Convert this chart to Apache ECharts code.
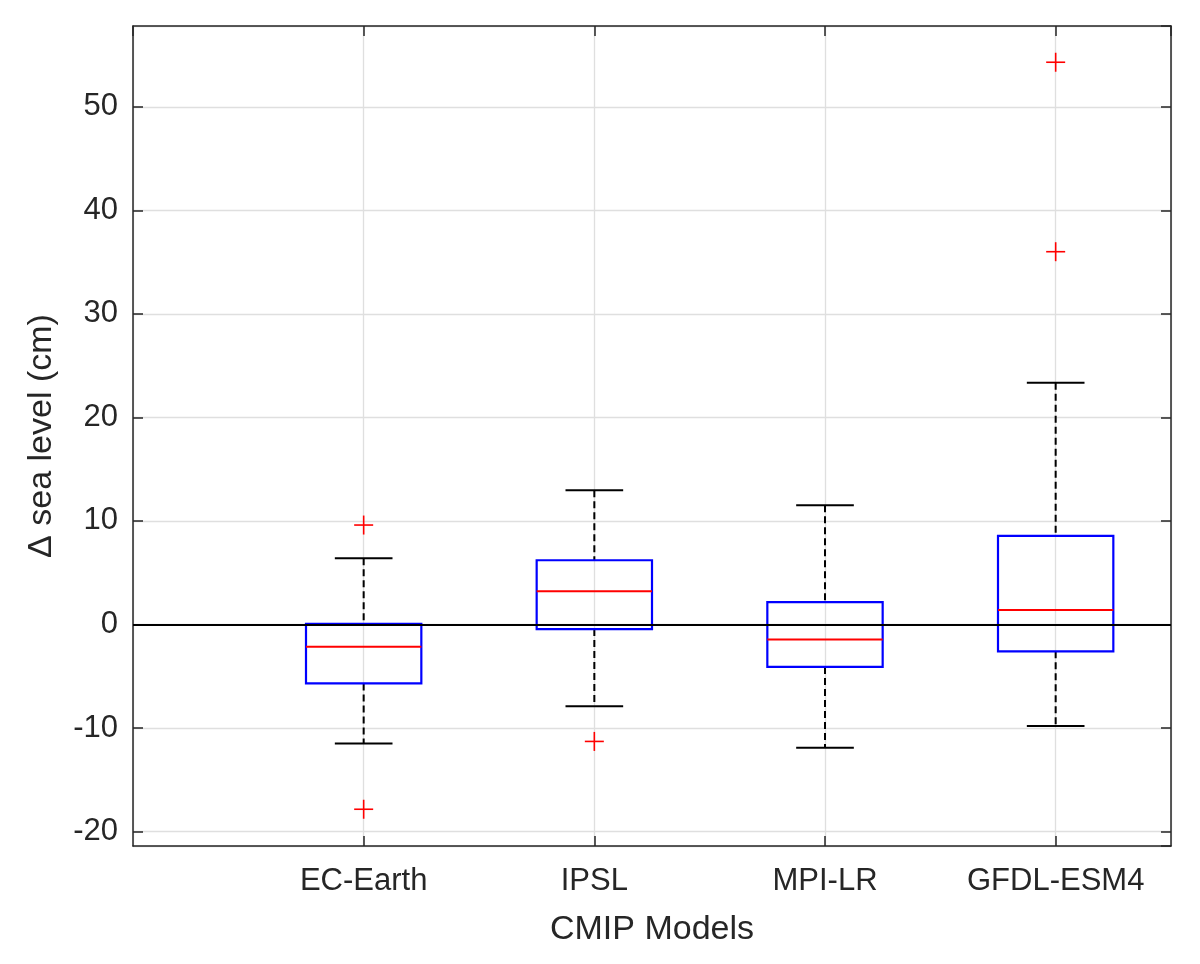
<!DOCTYPE html>
<html>
<head>
<meta charset="utf-8">
<script src="https://cdn.jsdelivr.net/npm/echarts@6.0.0/dist/echarts.min.js"></script>
<style>
  html, body { margin: 0; padding: 0; background: #fff; }
  #chart { width: 1200px; height: 964px; }
</style>
</head>
<body>
<div id="chart"></div>
<script>
// box statistics (cm)
const models = ["EC-Earth", "IPSL", "MPI-LR", "GFDL-ESM4"];
const whiskerLow = [-11.5, -7.9, -11.9, -9.8];
const quartile1 = [-5.7, -0.45, -4.1, -2.6];
const medians = [-2.15, 3.2, -1.45, 1.4];
const quartile3 = [0.05, 6.2, 2.15, 8.55];
const whiskerHigh = [6.4, 12.95, 11.5, 23.35];

// outliers: model position (1-based) and value
const outlierModel = [1, 1, 2, 4, 4];
const outlierValue = [9.6, -17.85, -11.3, 54.3, 36.0];

const yTicks = [-20, -10, 0, 10, 20, 30, 40, 50];

const FONT = "'Liberation Sans', Arial, Helvetica, sans-serif";
const INK = "#262626";

const boxData = models.map((m, i) => [
  i + 1, whiskerLow[i], quartile1[i], medians[i], quartile3[i], whiskerHigh[i],
]);
const outlierData = outlierModel.map((m, i) => [m, outlierValue[i]]);

const chart = echarts.init(document.getElementById("chart"), null, { renderer: "canvas" });

const xCommon = {
  type: "value",
  min: 0,
  max: 4.5,
  interval: 1,
  axisLine: { show: true, onZero: false, lineStyle: { color: INK, width: 1.5 } },
  axisTick: { show: true, inside: true, length: 10, lineStyle: { color: INK, width: 1.5 } },
};
const yCommon = {
  type: "value",
  min: -21.4,
  max: 57.8,
  splitNumber: 8,
  minInterval: 10,
  maxInterval: 10,
  axisLine: { show: true, onZero: false, lineStyle: { color: INK, width: 1.5 } },
  axisTick: { show: true, inside: true, length: 10, lineStyle: { color: INK, width: 1.5 } },
};

chart.setOption({
  backgroundColor: "#fff",
  animation: false,
  grid: { left: 133, top: 26, right: 29, bottom: 118 },
  xAxis: [
    Object.assign({}, xCommon, {
      position: "bottom",
      name: "CMIP Models",
      nameLocation: "middle",
      nameGap: 67,
      nameTextStyle: { fontFamily: FONT, fontSize: 34, color: INK },
      axisLabel: {
        fontFamily: FONT,
        fontSize: 31,
        color: INK,
        margin: 20,
        showMinLabel: false,
        showMaxLabel: false,
        formatter: (v) => models[v - 1] || "",
      },
      splitLine: { show: true, lineStyle: { color: "#dfdfdf", width: 1.3 } },
    }),
    Object.assign({}, xCommon, {
      position: "top",
      axisLabel: { show: false },
      splitLine: { show: false },
    }),
  ],
  yAxis: [
    Object.assign({}, yCommon, {
      position: "left",
      name: "\u0394 sea level (cm)",
      nameLocation: "middle",
      nameGap: 74,
      nameRotate: 90,
      nameTextStyle: { fontFamily: FONT, fontSize: 34, color: INK },
      axisLabel: {
        fontFamily: FONT,
        fontSize: 31,
        color: INK,
        margin: 15,
        showMinLabel: false,
        showMaxLabel: false,
        formatter: (v) => (yTicks.includes(v) ? String(v) : ""),
      },
      splitLine: { show: true, lineStyle: { color: "#dfdfdf", width: 1.3 } },
    }),
    Object.assign({}, yCommon, {
      position: "right",
      axisLabel: { show: false },
      splitLine: { show: false },
    }),
  ],
  series: [
    {
      type: "custom",
      name: "boxes",
      data: boxData,
      encode: { x: 0, y: [1, 2, 3, 4, 5] },
      z: 3,
      renderItem: (params, api) => {
        const x = api.value(0);
        const cx = api.coord([x, 0])[0];
        const halfBox = api.size([0.25, 0])[0];
        const halfCap = api.size([0.125, 0])[0];
        const yLo = api.coord([x, api.value(1)])[1];
        const yQ1 = api.coord([x, api.value(2)])[1];
        const yMed = api.coord([x, api.value(3)])[1];
        const yQ3 = api.coord([x, api.value(4)])[1];
        const yHi = api.coord([x, api.value(5)])[1];
        const dash = { stroke: "#000", lineWidth: 2, lineDash: [7, 4] };
        const solid = { stroke: "#000", lineWidth: 2 };
        return {
          type: "group",
          children: [
            { type: "line", shape: { x1: cx, y1: yHi, x2: cx, y2: yQ3 }, style: dash },
            { type: "line", shape: { x1: cx, y1: yQ1, x2: cx, y2: yLo }, style: dash },
            { type: "line", shape: { x1: cx - halfCap, y1: yHi, x2: cx + halfCap, y2: yHi }, style: solid },
            { type: "line", shape: { x1: cx - halfCap, y1: yLo, x2: cx + halfCap, y2: yLo }, style: solid },
            {
              type: "rect",
              shape: { x: cx - halfBox, y: yQ3, width: halfBox * 2, height: yQ1 - yQ3 },
              style: { fill: null, stroke: "#0000ff", lineWidth: 2.2 },
            },
            {
              type: "line",
              shape: { x1: cx - halfBox, y1: yMed, x2: cx + halfBox, y2: yMed },
              style: { stroke: "#ff0000", lineWidth: 2 },
            },
          ],
        };
      },
      markLine: {
        silent: true,
        symbol: "none",
        label: { show: false },
        lineStyle: { color: "#000", width: 2, type: "solid" },
        data: [{ yAxis: 0 }],
        z: 5,
      },
    },
    {
      type: "custom",
      name: "outliers",
      data: outlierData,
      encode: { x: 0, y: 1 },
      z: 4,
      renderItem: (params, api) => {
        const p = api.coord([api.value(0), api.value(1)]);
        const h = 9.5;
        const st = { stroke: "#ff0000", lineWidth: 1.6 };
        return {
          type: "group",
          children: [
            { type: "line", shape: { x1: p[0] - h, y1: p[1], x2: p[0] + h, y2: p[1] }, style: st },
            { type: "line", shape: { x1: p[0], y1: p[1] - h, x2: p[0], y2: p[1] + h }, style: st },
          ],
        };
      },
    },
  ],
});
</script>
</body>
</html>
